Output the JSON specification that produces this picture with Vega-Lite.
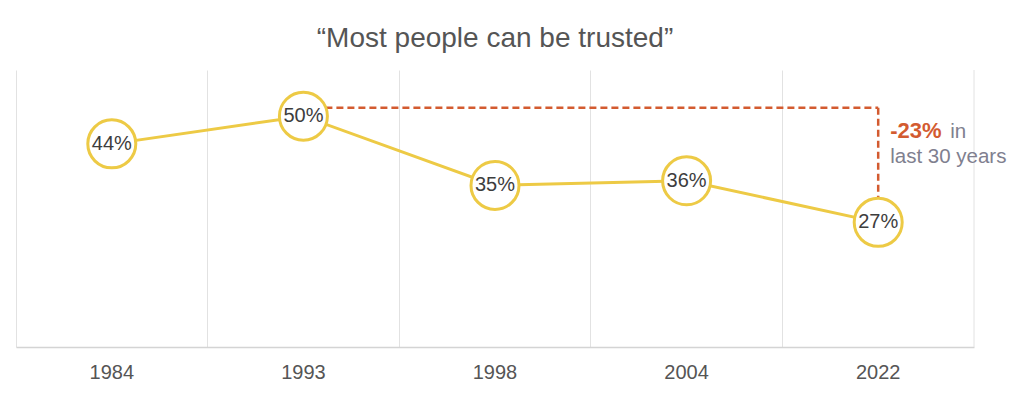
{
  "$schema": "https://vega.github.io/schema/vega-lite/v6.json",
  "autosize": {"type": "none"},
  "padding": {"left": 16, "top": 70, "right": 50, "bottom": 49},
  "width": 958,
  "height": 277,
  "background": "white",
  "title": {
    "text": "“Most people can be trusted”",
    "font": "Liberation Sans",
    "fontSize": 28,
    "fontWeight": "normal",
    "color": "#555555",
    "anchor": "middle",
    "offset": 17
  },
  "config": {
    "view": {"stroke": null},
    "font": "Liberation Sans"
  },
  "datasets": {
    "trust": [
      {"year": "1984", "value": 44, "label": "44%"},
      {"year": "1993", "value": 50, "label": "50%"},
      {"year": "1998", "value": 35, "label": "35%"},
      {"year": "2004", "value": 36, "label": "36%"},
      {"year": "2022", "value": 27, "label": "27%"}
    ],
    "change": [
      {"from": "1993", "to": "2022", "top": 51.8, "end": 27}
    ],
    "notes": [
      {"year": "2022", "value": 45.3, "text": "-23%", "kind": "big", "shift": 0},
      {"year": "2022", "value": 45.3, "text": "in", "kind": "small", "shift": 1},
      {"year": "2022", "value": 39.9, "text": "last 30 years", "kind": "small", "shift": 0}
    ]
  },
  "layer": [
    {
      "data": {"name": "trust"},
      "mark": {"type": "rule", "strokeWidth": 0},
      "encoding": {
        "x": {
          "field": "year", "type": "nominal",
          "scale": {"type": "band", "paddingInner": 0, "paddingOuter": 0},
          "axis": {
            "title": null,
            "labelAngle": 0,
            "labelFont": "Liberation Sans",
            "labelFontSize": 20,
            "labelColor": "#555555",
            "labelPadding": 15,
            "ticks": false,
            "domain": true,
            "domainColor": "#d4d4d4",
            "domainWidth": 1.5,
            "grid": true,
            "gridColor": "#e2e2e2",
            "gridWidth": 1,
            "bandPosition": 0
          }
        }
      }
    },
    {
      "data": {"name": "trust"},
      "transform": [{"filter": "datum.year == '2022'"}],
      "mark": {"type": "rule", "color": "#e2e2e2", "strokeWidth": 1},
      "encoding": {
        "x": {"field": "year", "type": "nominal", "bandPosition": 1}
      }
    },
    {
      "data": {"name": "change"},
      "mark": {"type": "rule", "color": "#D35B30", "strokeWidth": 2.5, "strokeDash": [7, 4]},
      "encoding": {
        "x": {"field": "from", "type": "nominal"},
        "x2": {"field": "to"},
        "y": {"field": "top", "type": "quantitative", "scale": {"domain": [0, 60]}, "axis": null}
      }
    },
    {
      "data": {"name": "change"},
      "mark": {"type": "rule", "color": "#D35B30", "strokeWidth": 2.5, "strokeDash": [7, 4]},
      "encoding": {
        "x": {"field": "to", "type": "nominal"},
        "y": {"field": "top", "type": "quantitative", "axis": null},
        "y2": {"field": "end"}
      }
    },
    {
      "data": {"name": "trust"},
      "mark": {"type": "line", "color": "#EDCA45", "strokeWidth": 3},
      "encoding": {
        "x": {"field": "year", "type": "nominal"},
        "y": {"field": "value", "type": "quantitative", "axis": null}
      }
    },
    {
      "data": {"name": "trust"},
      "mark": {"type": "point", "shape": "circle", "filled": true, "fill": "white", "fillOpacity": 1, "stroke": "#EDCA45", "strokeWidth": 3, "opacity": 1, "size": 2304},
      "encoding": {
        "x": {"field": "year", "type": "nominal"},
        "y": {"field": "value", "type": "quantitative", "axis": null}
      }
    },
    {
      "data": {"name": "trust"},
      "mark": {"type": "text", "fontSize": 20, "color": "#3d3d3d", "font": "Liberation Sans", "baseline": "middle", "align": "center"},
      "encoding": {
        "x": {"field": "year", "type": "nominal"},
        "y": {"field": "value", "type": "quantitative", "axis": null},
        "text": {"field": "label"}
      }
    },
    {
      "data": {"name": "notes"},
      "transform": [{"filter": "datum.kind == 'big'"}],
      "mark": {"type": "text", "fontSize": 22, "fontWeight": "bold", "color": "#D35B30", "align": "left", "baseline": "alphabetic", "dx": 12},
      "encoding": {
        "x": {"field": "year", "type": "nominal"},
        "y": {"field": "value", "type": "quantitative", "axis": null},
        "text": {"field": "text"}
      }
    },
    {
      "data": {"name": "notes"},
      "transform": [{"filter": "datum.kind == 'small' && datum.shift == 1"}],
      "mark": {"type": "text", "fontSize": 20.5, "color": "#80808f", "align": "left", "baseline": "alphabetic", "dx": 72},
      "encoding": {
        "x": {"field": "year", "type": "nominal"},
        "y": {"field": "value", "type": "quantitative", "axis": null},
        "text": {"field": "text"}
      }
    },
    {
      "data": {"name": "notes"},
      "transform": [{"filter": "datum.kind == 'small' && datum.shift == 0"}],
      "mark": {"type": "text", "fontSize": 20.5, "color": "#80808f", "align": "left", "baseline": "alphabetic", "dx": 12},
      "encoding": {
        "x": {"field": "year", "type": "nominal"},
        "y": {"field": "value", "type": "quantitative", "axis": null},
        "text": {"field": "text"}
      }
    }
  ]
}
